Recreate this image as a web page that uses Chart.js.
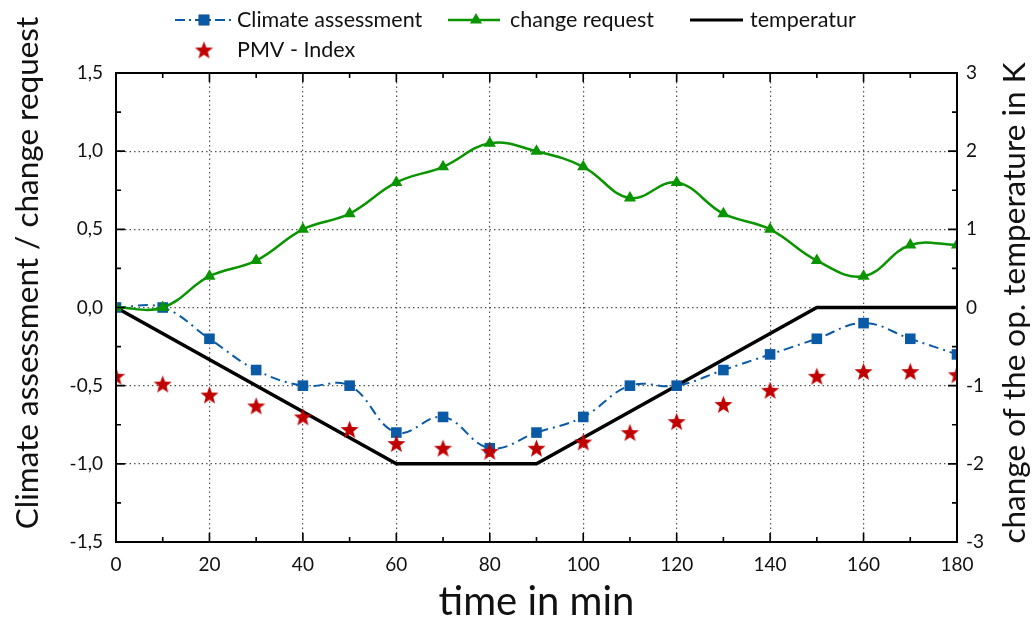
<!DOCTYPE html>
<html>
<head>
<meta charset="utf-8">
<script src="https://cdn.jsdelivr.net/npm/chart.js@4/dist/chart.umd.min.js"></script>
<style>
html, body { margin: 0; padding: 0; background: #fff; }
#wrap { width: 1035px; height: 640px; }
</style>
</head>
<body>
<div id="wrap"><canvas id="chart" width="1035" height="640"></canvas></div>
<script>
(function(){
// time axis (min)
const minutes = [0, 10, 20, 30, 40, 50, 60, 70, 80, 90, 100, 110, 120, 130, 140, 150, 160, 170, 180];
const climateAssessment = [0, 0, -0.2, -0.4, -0.5, -0.5, -0.8, -0.7, -0.9, -0.8, -0.7, -0.5, -0.5, -0.4, -0.3, -0.2, -0.1, -0.2, -0.3];
const changeRequest = [0, 0, 0.2, 0.3, 0.5, 0.6, 0.8, 0.9, 1.05, 1.0, 0.9, 0.7, 0.8, 0.6, 0.5, 0.3, 0.2, 0.4, 0.4];
const pmvIndex = [-0.44, -0.49, -0.56, -0.63, -0.7, -0.78, -0.87, -0.9, -0.92, -0.9, -0.86, -0.8, -0.73, -0.62, -0.53, -0.44, -0.41, -0.41, -0.43];
// temperature change (right axis, K)
const tempMinutes = [0, 60, 90, 150, 180];
const temperature = [0, -2, -2, 0, 0];

const FONT = 'Lato, "Open Sans", sans-serif';
const BLUE = '#0a5aa5', GREEN = '#0a9400', RED = '#c00000';

const pts = (xs, ys) => xs.map((x, i) => ({ x: x, y: ys[i] }));

// filled five point star for the PMV markers
function makeStar(r) {
  const c = document.createElement('canvas');
  const s = Math.ceil(r * 2 + 2);
  c.width = s; c.height = s;
  const g = c.getContext('2d');
  g.fillStyle = RED;
  g.beginPath();
  for (let i = 0; i < 10; i++) {
    const rr = i % 2 ? r * 0.42 : r;
    const a = -Math.PI / 2 + i * Math.PI / 5;
    const px = s / 2 + rr * Math.cos(a), py = s / 2 + rr * Math.sin(a) + r * 0.08;
    i ? g.lineTo(px, py) : g.moveTo(px, py);
  }
  g.closePath();
  g.fill();
  return c;
}
const star = makeStar(9.5);

const fmt = v => (Math.round(v * 10) / 10).toFixed(1).replace('.', ',');

const frame = {
  id: 'frame',
  afterDatasetsDraw(chart) {
    const { ctx, chartArea: a, scales } = chart;
    ctx.save();
    ctx.strokeStyle = '#000';
    ctx.lineWidth = 2;
    ctx.strokeRect(a.left, a.top, a.right - a.left, a.bottom - a.top);
    ctx.lineWidth = 1.6;
    ctx.beginPath();
    for (let v = 0; v <= 180; v += 10) {
      const x = scales.x.getPixelForValue(v);
      const len = v % 20 ? 5 : 9;
      ctx.moveTo(x, a.bottom); ctx.lineTo(x, a.bottom - len);
      ctx.moveTo(x, a.top); ctx.lineTo(x, a.top + len);
    }
    for (let k = -6; k <= 6; k++) {
      const y = scales.y.getPixelForValue(k * 0.25);
      const len = k % 2 ? 5 : 9;
      ctx.moveTo(a.left, y); ctx.lineTo(a.left + len, y);
    }
    for (let k = -6; k <= 6; k++) {
      const y = scales.y2.getPixelForValue(k * 0.5);
      const len = k % 2 ? 5 : 9;
      ctx.moveTo(a.right, y); ctx.lineTo(a.right - len, y);
    }
    ctx.stroke();
    ctx.restore();
  },
  afterDraw(chart) {
    const { ctx, chartArea: a } = chart;
    const H = Chart.helpers;
    ctx.save();
    ctx.fillStyle = '#111';
    ctx.textBaseline = 'middle';

    // axis titles
    ctx.font = '31.5px ' + FONT;
    ctx.textAlign = 'center';
    ctx.save();
    ctx.translate(28, 273);
    ctx.rotate(-Math.PI / 2);
    ctx.fillText('Climate assessment / change request', 0, 0);
    ctx.restore();
    ctx.save();
    ctx.translate(1015, 303);
    ctx.rotate(-Math.PI / 2);
    ctx.fillText('change of the op. temperature in K', 0, 0);
    ctx.restore();
    ctx.font = '40px ' + FONT;
    ctx.fillText('time in min', (a.left + a.right) / 2, 602);

    // legend
    ctx.font = '21.5px ' + FONT;
    ctx.textAlign = 'left';
    const row1 = 20, row2 = 50;
    ctx.lineWidth = 2;
    ctx.strokeStyle = BLUE;
    ctx.setLineDash([10, 4, 2, 4]);
    ctx.beginPath(); ctx.moveTo(175, row1); ctx.lineTo(231, row1); ctx.stroke();
    ctx.setLineDash([]);
    H.drawPoint(ctx, { pointStyle: 'rect', radius: 7.5, rotation: 0, borderWidth: 0 }, 204, row1);
    ctx.fillStyle = BLUE; ctx.fill();
    ctx.fillStyle = '#111';
    ctx.fillText('Climate assessment', 237, row1);

    ctx.strokeStyle = GREEN; ctx.lineWidth = 2.5;
    ctx.beginPath(); ctx.moveTo(448, row1); ctx.lineTo(500, row1); ctx.stroke();
    ctx.fillStyle = GREEN;
    H.drawPoint(ctx, { pointStyle: 'triangle', radius: 7, rotation: 0, borderWidth: 0 }, 476, row1);
    ctx.fillStyle = '#111';
    ctx.fillText('change request', 510, row1);

    ctx.strokeStyle = '#000'; ctx.lineWidth = 3;
    ctx.beginPath(); ctx.moveTo(690, row1); ctx.lineTo(743, row1); ctx.stroke();
    ctx.fillText('temperatur', 750, row1);

    ctx.drawImage(star, 204 - star.width / 2, row2 - star.height / 2);
    ctx.fillText('PMV - Index', 237, row2);
    ctx.restore();
  }
};

new Chart(document.getElementById('chart'), {
  type: 'line',
  data: {
    datasets: [
      {
        label: 'PMV - Index', data: pts(minutes, pmvIndex), yAxisID: 'y', order: 0,
        showLine: false, pointStyle: star, pointRadius: 9, borderColor: RED, backgroundColor: RED
      },
      {
        label: 'change request', data: pts(minutes, changeRequest), yAxisID: 'y', order: 1,
        borderColor: GREEN, backgroundColor: GREEN, borderWidth: 2.5, tension: 0.4,
        pointStyle: 'triangle', pointRadius: 7, pointBorderWidth: 0
      },
      {
        label: 'Climate assessment', data: pts(minutes, climateAssessment), yAxisID: 'y', order: 2,
        borderColor: BLUE, backgroundColor: BLUE, borderWidth: 2, borderDash: [10, 5, 2, 5], tension: 0.4,
        pointStyle: 'rect', pointRadius: 7.5, pointBorderWidth: 0
      },
      {
        label: 'temperatur', data: pts(tempMinutes, temperature), yAxisID: 'y2', order: 3,
        borderColor: '#000', borderWidth: 3.5, tension: 0, pointRadius: 0
      }
    ]
  },
  options: {
    responsive: false,
    devicePixelRatio: 1,
    animation: false,
    layout: { padding: { top: 73, left: 0, right: 0, bottom: 0 } },
    plugins: { legend: { display: false }, tooltip: { enabled: false } },
    scales: {
      x: {
        type: 'linear', min: 0, max: 180,
        afterFit: s => { s.height = 98; },
        ticks: { stepSize: 20, padding: 11, color: '#111', font: { family: FONT, size: 19 } },
        grid: { drawTicks: false, color: '#555', lineWidth: 1.2 },
        border: { display: false, dash: [1.5, 3] }
      },
      y: {
        position: 'left', min: -1.5, max: 1.5,
        afterFit: s => { s.width = 116; },
        ticks: { stepSize: 0.5, padding: 13, color: '#111', font: { family: FONT, size: 19 }, callback: v => fmt(v) },
        grid: { drawTicks: false, color: '#555', lineWidth: 1.2 },
        border: { display: false, dash: [1.5, 3] }
      },
      y2: {
        position: 'right', min: -3, max: 3,
        afterFit: s => { s.width = 78; },
        ticks: { stepSize: 1, padding: 9, color: '#111', font: { family: FONT, size: 19 } },
        grid: { drawOnChartArea: false, drawTicks: false },
        border: { display: false }
      }
    }
  },
  plugins: [frame]
});
})();
</script>
</body>
</html>
